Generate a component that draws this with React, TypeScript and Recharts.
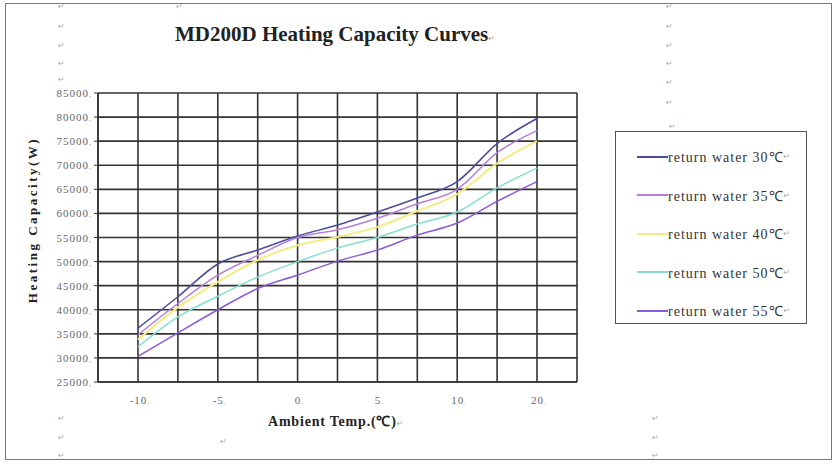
import { LineChart, Line, XAxis, YAxis, CartesianGrid } from 'recharts'

// ambient temperature categories (°C) and capacity readings (W)
const temps = [-10, -7.5, -5, -2.5, 0, 2.5, 5, 7.5, 10, 15, 20]
const shownTemps = [-10, -5, 0, 5, 10, 20]

const rw30 = [36200, 42700, 49500, 52400, 55300, 57600, 60300, 63200, 66600, 74500, 79700]
const rw35 = [34800, 41300, 47200, 51300, 55000, 56600, 59000, 62000, 65000, 72600, 77200]
const rw40 = [33800, 40500, 45800, 50300, 53400, 55100, 57200, 60500, 64000, 70400, 75000]
const rw50 = [32300, 38500, 42800, 46800, 50000, 52800, 55000, 57800, 60300, 65300, 69400]
const rw55 = [30300, 35200, 40000, 44400, 47200, 50100, 52400, 55500, 58000, 62500, 66600]

const yTicks = [25000, 30000, 35000, 40000, 45000, 50000, 55000, 60000, 65000, 70000, 75000, 80000, 85000]

const seriesNames = ['return water 30℃', 'return water 35℃', 'return water 40℃', 'return water 50℃', 'return water 55℃']
const seriesKeys = ['rw30', 'rw35', 'rw40', 'rw50', 'rw55']
const seriesColors = ['#4a4aa0', '#b77de0', '#f2ec82', '#86e0cf', '#8c5ad8']

const data = temps.map((t, i) => ({
    temp: t,
    rw30: rw30[i],
    rw35: rw35[i],
    rw40: rw40[i],
    rw50: rw50[i],
    rw55: rw55[i],
}))

const SERIF = "'Liberation Serif', 'Times New Roman', serif"
const GRID = '#333'

// stray Word paragraph marks around the figure
const marks = [
    [58, 2], [58, 22], [58, 41], [58, 59], [58, 75],
    [176, 2],
    [666, 2], [666, 22], [666, 41], [666, 59], [666, 78], [666, 98], [669, 122],
    [58, 414], [58, 433], [58, 451], [220, 437],
    [652, 414], [652, 433], [652, 451],
]

function YTick({ x, y, payload }: any) {
    return (
        <text x={x} y={y} dy={4} textAnchor="end" fontFamily={SERIF} fontSize={11} letterSpacing={1} fill="#666">
            {payload.value}
            <tspan fontSize={8} fill="#999">,</tspan>
        </text>
    )
}

function XTick({ x, y, payload }: any) {
    if (!shownTemps.includes(payload.value)) return null
    return (
        <text x={x + 2} y={y} dy={14} textAnchor="middle" fontFamily={SERIF} fontSize={11} letterSpacing={1} fill="#666">
            {payload.value}
            <tspan fontSize={8} fill="#999">.</tspan>
        </text>
    )
}

export default function App() {
    return (
        <div style={{ position: 'relative', width: 834, height: 464, background: '#fff', fontFamily: SERIF }}>
            <style>{'body{margin:0}'}</style>
            <div
                style={{
                    position: 'absolute', left: 5, top: 3, width: 825, height: 455,
                    border: '1.5px solid #777',
                }}
            />
            {marks.map(([mx, my], i) => (
                <span key={i} style={{ position: 'absolute', left: mx, top: my, fontSize: 8, color: '#aaa', fontFamily: 'DejaVu Sans' }}>↵</span>
            ))}
            <div style={{ position: 'absolute', left: 0, top: 0 }}>
                <LineChart width={834} height={464} data={data} margin={{ top: 93, right: 257, bottom: 52, left: 38 }}>
                    <CartesianGrid stroke={GRID} strokeWidth={1.6} />
                    <XAxis
                        dataKey="temp"
                        type="category"
                        interval={0}
                        padding={{ left: 40, right: 40 }}
                        tickLine={false}
                        axisLine={{ stroke: GRID, strokeWidth: 1.6 }}
                        tick={<XTick />}
                        height={30}
                    />
                    <YAxis
                        domain={[25000, 85000]}
                        ticks={yTicks}
                        interval={0}
                        width={60}
                        tickSize={4}
                        tickMargin={2}
                        tickLine={{ stroke: GRID }}
                        axisLine={{ stroke: GRID, strokeWidth: 1.6 }}
                        tick={<YTick />}
                    />
                    <YAxis
                        yAxisId="edge"
                        orientation="right"
                        width={0}
                        tick={false}
                        tickLine={false}
                        axisLine={{ stroke: GRID, strokeWidth: 1.6 }}
                    />
                    {seriesKeys.map((k, i) => (
                        <Line
                            key={k}
                            type="monotone"
                            dataKey={k}
                            stroke={seriesColors[i]}
                            strokeWidth={k === 'rw40' ? 2 : 1.5}
                            dot={false}
                            isAnimationActive={false}
                        />
                    ))}
                </LineChart>
            </div>
            <div style={{ position: 'absolute', left: 175, top: 22, width: 320, textAlign: 'center', fontSize: 21, fontWeight: 'bold', color: '#222', whiteSpace: 'nowrap' }}>
                MD200D Heating Capacity Curves
                <span style={{ fontSize: 8, color: '#aaa', fontWeight: 'normal', fontFamily: 'DejaVu Sans' }}>↵</span>
            </div>
            <div
                style={{
                    position: 'absolute', left: 33, top: 220, transform: 'translate(-50%, -50%) rotate(-90deg)',
                    fontSize: 13, fontWeight: 'bold', letterSpacing: 2.5, whiteSpace: 'nowrap', color: '#222',
                }}
            >
                Heating Capacity(W)
            </div>
            <div style={{ position: 'absolute', left: 268, top: 411, fontSize: 14, fontWeight: 'bold', letterSpacing: 0.8, color: '#222', whiteSpace: 'nowrap' }}>
                Ambient Temp.(℃)
                <span style={{ fontSize: 8, color: '#aaa', fontWeight: 'normal', fontFamily: 'DejaVu Sans' }}>↵</span>
            </div>
            <div style={{ position: 'absolute', left: 615, top: 131, width: 192, height: 193, border: '1.5px solid #555', boxSizing: 'border-box' }}>
                {seriesNames.map((name, i) => (
                    <div key={name} style={{ position: 'absolute', left: 21, top: 15 + i * 38.5, display: 'flex', alignItems: 'center', whiteSpace: 'nowrap' }}>
                        <div style={{ width: 31, height: 0, borderTop: `2px solid ${seriesColors[i]}` }} />
                        <span style={{ fontSize: 14, letterSpacing: 1, color: '#333' }}>{name}</span>
                        <span style={{ fontSize: 8, color: '#aaa', fontFamily: 'DejaVu Sans' }}>↵</span>
                    </div>
                ))}
            </div>
        </div>
    )
}
